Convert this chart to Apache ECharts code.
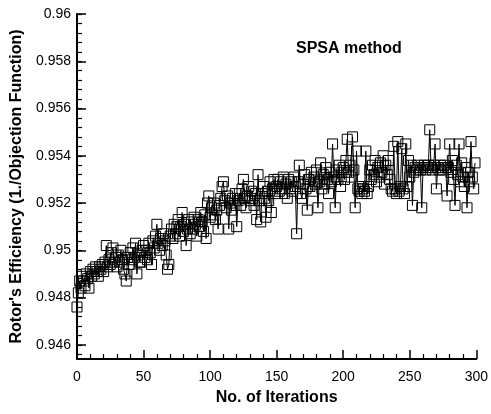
<!DOCTYPE html>
<html>
<head>
<meta charset="utf-8">
<script src="https://cdn.jsdelivr.net/npm/echarts@6/dist/echarts.min.js"></script>
<style>html,body{margin:0;padding:0;background:#fff}#c{width:491px;height:414px}</style>
</head>
<body>
<div id="c"></div>
<script>
// ---- data ----
const effA = [0.9476,0.9482,0.9487,0.9484,0.9489,0.9487,0.9485,0.9490,0.9488,0.9484,
0.9491,0.9489,0.9492,0.9490,0.9493,0.9491,0.9489,0.9493,0.9492,0.9494,
0.9491,0.9495,0.9502,0.9493,0.9496,0.9494,0.9499,0.9501,0.9495,0.9497,
0.9493,0.9498,0.9495,0.9500,0.9496,0.9492,0.9490,0.9487,0.9497,0.9494,
0.9499,0.9496,0.9501,0.9497,0.9503,0.9490,0.9498,0.9495,0.9495,0.9500];
const effB = [0.9502,0.9497,0.9500,0.9496,0.9503,0.9499,0.9494,0.9504,0.9501,0.9506,
0.9511,0.9503,0.9500,0.9505,0.9502,0.9507,0.9504,0.9498,0.9492,0.9494,
0.9506,0.9509,0.9505,0.9511,0.9507,0.9510,0.9513,0.9506,0.9510,0.9516,
0.9508,0.9511,0.9502,0.9509,0.9513,0.9507,0.9512,0.9509,0.9514,0.9511,
0.9506,0.9513,0.9510,0.9516,0.9512,0.9508,0.9515,0.9505,0.9520,0.9523];
const effC = [0.9514,0.9518,0.9515,0.9520,0.9513,0.9517,0.9509,0.9519,0.9522,0.9527,
0.9529,0.9521,0.9518,0.9523,0.9509,0.9520,0.9517,0.9522,0.9519,0.9524,
0.9510,0.9521,0.9524,0.9519,0.9526,0.9530,0.9522,0.9518,0.9523,0.9527,
0.9521,0.9525,0.9522,0.9519,0.9524,0.9513,0.9532,0.9521,0.9512,0.9524,
0.9527,0.9522,0.9514,0.9525,0.9521,0.9529,0.9516,0.9526,0.9530,0.9524];
const effD = [0.9527,0.9530,0.9525,0.9529,0.9526,0.9531,0.9524,0.9528,0.9522,0.9530,
0.9526,0.9529,0.9525,0.9531,0.9527,0.9507,0.9529,0.9536,0.9524,0.9522,
0.9528,0.9532,0.9526,0.9517,0.9530,0.9527,0.9533,0.9525,0.9531,0.9528,
0.9534,0.9518,0.9529,0.9537,0.9526,0.9532,0.9528,0.9535,0.9530,0.9524,
0.9533,0.9529,0.9545,0.9531,0.9518,0.9534,0.9530,0.9536,0.9527,0.9533];
const effE = [0.9535,0.9530,0.9538,0.9547,0.9533,0.9536,0.9531,0.9548,0.9534,0.9518,
0.9542,0.9526,0.9525,0.9527,0.9524,0.9526,0.9525,0.9542,0.9524,0.9527,
0.9534,0.9530,0.9536,0.9532,0.9538,0.9529,0.9535,0.9531,0.9537,0.9533,
0.9540,0.9528,0.9536,0.9532,0.9538,0.9530,0.9526,0.9525,0.9544,0.9526,
0.9524,0.9546,0.9525,0.9527,0.9543,0.9526,0.9524,0.9545,0.9527,0.9538];
const effF = [0.9531,0.9536,0.9519,0.9533,0.9535,0.9534,0.9536,0.9535,0.9534,0.9518,
0.9535,0.9536,0.9534,0.9535,0.9536,0.9551,0.9535,0.9534,0.9536,0.9545,
0.9526,0.9535,0.9534,0.9536,0.9535,0.9534,0.9536,0.9535,0.9523,0.9535,
0.9545,0.9533,0.9538,0.9530,0.9519,0.9536,0.9532,0.9545,0.9529,0.9537,
0.9531,0.9527,0.9535,0.9518,0.9533,0.9529,0.9546,0.9531,0.9526,0.9537];
const efficiency = [].concat(effA, effB, effC, effD, effE, effF);
const iterations = efficiency.map((_, i) => i);
const xTicks = [0, 50, 100, 150, 200, 250, 300];
const yTicks = [0.946, 0.948, 0.95, 0.952, 0.954, 0.956, 0.958, 0.96];
const yMin = 0.9454, yMax = 0.96;
const xTitle = 'No. of Iterations';
const yTitle = "Rotor's Efficiency (1./Objection Function)";
const note = 'SPSA method';

// minor y ticks (every fifth of a major step)
const yMinor = [];
for (let k = 0; k <= 40; k++) {
  const v = +(0.9456 + k * 0.0004).toFixed(4);
  if (v <= yMax + 1e-9) yMinor.push(v);
}

const chart = echarts.init(document.getElementById('c'), null, {renderer: 'canvas'});
const font = 'Liberation Sans, Arial, sans-serif';
chart.setOption({
  animation: false,
  backgroundColor: '#fff',
  grid: {left: 77, right: 11, top: 14, bottom: 55},
  xAxis: {
    type: 'value', min: xTicks[0], max: xTicks[xTicks.length - 1], interval: 50,
    name: xTitle, nameLocation: 'middle', nameGap: 31,
    nameTextStyle: {fontFamily: font, fontSize: 16, fontWeight: 'bold', color: '#000'},
    axisLine: {show: true, lineStyle: {color: '#000', width: 2}},
    axisTick: {show: true, inside: true, length: 9, lineStyle: {color: '#000', width: 1.5}},
    minorTick: {show: true, splitNumber: 5, length: 5, lineStyle: {color: '#000', width: 1.2}},
    axisLabel: {fontFamily: font, fontSize: 14, color: '#000', margin: 11},
    splitLine: {show: false}
  },
  yAxis: [{
    type: 'value', min: yMin, max: yMax,
    name: yTitle, nameLocation: 'middle', nameGap: 46, nameRotate: 90,
    nameTextStyle: {fontFamily: font, fontSize: 16, fontWeight: 'bold', color: '#000'},
    axisLine: {show: true, lineStyle: {color: '#000', width: 2}},
    axisTick: {show: true, inside: true, length: 9, customValues: yTicks, lineStyle: {color: '#000', width: 1.5}},
    axisLabel: {fontFamily: font, fontSize: 14, color: '#000', margin: 6, customValues: yTicks,
      formatter: v => String(+v.toFixed(3))},
    splitLine: {show: false}
  }, {
    type: 'value', min: yMin, max: yMax, position: 'left',
    axisLine: {show: false},
    axisTick: {show: true, inside: true, length: 5, customValues: yMinor, lineStyle: {color: '#000', width: 1.2}},
    axisLabel: {show: false},
    splitLine: {show: false}
  }],
  graphic: [{
    type: 'text', left: 296, top: 41,
    style: {text: note, font: 'bold 16px ' + font, fill: '#000'}
  }],
  series: [{
    type: 'line',
    xAxisIndex: 0, yAxisIndex: 0,
    data: iterations.map((x, i) => [x, efficiency[i]]),
    symbol: 'rect', symbolSize: 10, showAllSymbol: true,
    itemStyle: {color: 'rgba(0,0,0,0)', borderColor: '#000', borderWidth: 1},
    lineStyle: {color: '#000', width: 1},
    emphasis: {disabled: true}
  }]
});
</script>
</body>
</html>
